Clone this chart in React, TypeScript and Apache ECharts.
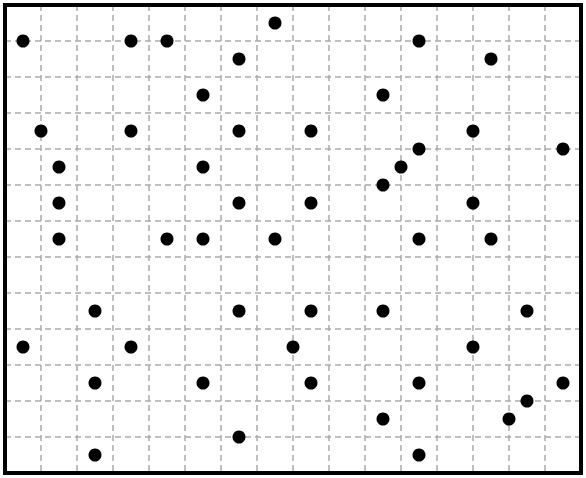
import React, { useEffect, useRef } from "react";
import * as echarts from "echarts";

// Point coordinates (column, row), rows counted from the top
const xValues: number[] = [
  15,
  1, 7, 9, 23,
  13, 27,
  11, 21,
  2, 7, 13, 17, 26,
  23, 31,
  3, 11, 22,
  21,
  3, 13, 17, 26,
  3, 9, 11, 15, 23, 27,
  5, 13, 17, 21, 29,
  1, 7, 16, 26,
  5, 11, 17, 23, 31,
  29,
  21, 28,
  13,
  5, 23,
];
const yValues: number[] = [
  1,
  2, 2, 2, 2,
  3, 3,
  5, 5,
  7, 7, 7, 7, 7,
  8, 8,
  9, 9, 9,
  10,
  11, 11, 11, 11,
  13, 13, 13, 13, 13, 13,
  17, 17, 17, 17, 17,
  19, 19, 19, 19,
  21, 21, 21, 21, 21,
  22,
  23, 23,
  24,
  25, 25,
];
const xRange = [0, 32];
const yRange = [0, 26];
const gridStep = 2;

export default function App() {
  const ref = useRef<HTMLDivElement>(null);
  useEffect(() => {
    if (!ref.current) return;
    const chart = echarts.init(ref.current, null, { renderer: "svg" });
    const data = xValues.map((x, i) => [x, yValues[i]]);
    const splitLine = {
      show: true,
      showMinLine: false,
      showMaxLine: false,
      lineStyle: { color: "#aaaaaa", width: 1.5, type: [6, 4] as any },
    };
    chart.setOption({
      animation: false,
      backgroundColor: "#ffffff",
      grid: { left: 5, right: 5, top: 5, bottom: 5, containLabel: false },
      xAxis: {
        type: "value",
        min: xRange[0],
        max: xRange[1],
        interval: gridStep,
        axisLine: { show: false },
        axisTick: { show: false },
        axisLabel: { show: false },
        splitLine,
      },
      yAxis: {
        type: "value",
        inverse: true,
        min: yRange[0],
        max: yRange[1],
        interval: gridStep,
        axisLine: { show: false },
        axisTick: { show: false },
        axisLabel: { show: false },
        splitLine,
      },
      graphic: [
        {
          type: "rect",
          z: 100,
          shape: { x: 5, y: 5, width: 576, height: 468 },
          style: { fill: "none", stroke: "#000000", lineWidth: 4 },
        },
      ],
      series: [
        {
          type: "scatter",
          data,
          symbol: "circle",
          symbolSize: 13,
          itemStyle: { color: "#000000", opacity: 1 },
          silent: true,
        },
      ],
    });
    return () => chart.dispose();
  }, []);
  return (
    <div
      ref={ref}
      style={{ position: "absolute", left: 0, top: 0, width: 586, height: 478 }}
    />
  );
}
